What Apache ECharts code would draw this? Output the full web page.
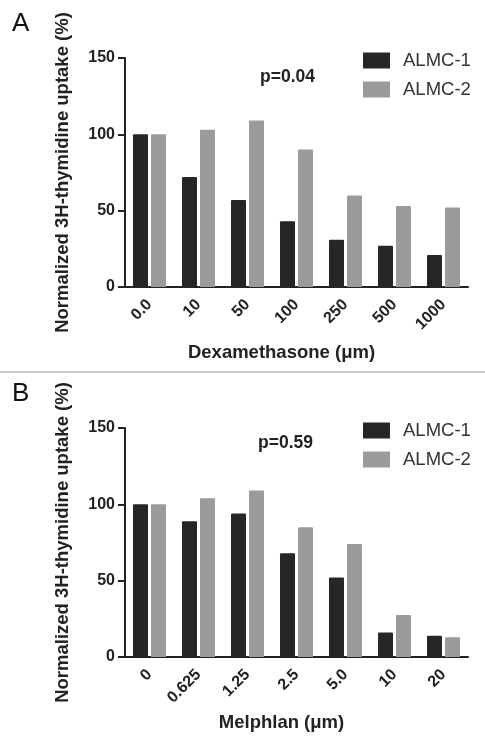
<!DOCTYPE html>
<html>
<head>
<meta charset="utf-8">
<script src="https://cdn.jsdelivr.net/npm/echarts@6/dist/echarts.min.js"></script>
<style>
html,body{margin:0;padding:0;background:#fff;}
#c{width:485px;height:749px;}
</style>
</head>
<body>
<div id="c"></div>
<script>
const catsA = ['0.0', '10', '50', '100', '250', '500', '1000'];
const almc1A = [100, 72, 57, 43, 31, 27, 21];
const almc2A = [100, 103, 109, 90, 60, 53, 52];

const catsB = ['0', '0.625', '1.25', '2.5', '5.0', '10', '20'];
const almc1B = [100, 89, 94, 68, 52, 16, 14];
const almc2B = [100, 104, 109, 85, 74, 27.5, 13];

const seriesNames = ['ALMC-1', 'ALMC-2'];
const yTicks = [0, 50, 100, 150];
const pTexts = ['p=0.04', 'p=0.59'];
const panelLetters = ['A', 'B'];
const xTitles = ['Dexamethasone (\u03bcm)', 'Melphlan (\u03bcm)'];
const yTitle = 'Normalized 3H-thymidine uptake (%)';

const DARK = '#262626';
const GRAY = '#9b9b9b';
const FONT = '"Liberation Sans", Arial, sans-serif';

const chart = echarts.init(document.getElementById('c'), null, {renderer: 'canvas'});

function xAxis(idx, cats, title) {
  return {
    type: 'category', gridIndex: idx, data: cats,
    axisLine: {lineStyle: {color: '#222', width: 2}},
    axisTick: {alignWithLabel: true, length: 7, lineStyle: {color: '#222', width: 2}},
    axisLabel: {rotate: 45, margin: 15, fontFamily: FONT, fontWeight: 'bold', fontSize: 16, color: '#222'},
    name: title, nameLocation: 'middle', nameGap: 56,
    nameTextStyle: {fontFamily: FONT, fontWeight: 'bold', fontSize: 18.5, color: '#222', padding: [0, 30, 0, 0]}
  };
}
function yAxis(idx) {
  return {
    type: 'value', gridIndex: idx, min: yTicks[0], max: yTicks[yTicks.length - 1], interval: 50,
    axisLine: {show: true, lineStyle: {color: '#222', width: 2}},
    axisTick: {show: true, length: 7, lineStyle: {color: '#222', width: 2}},
    axisLabel: {margin: 10, fontFamily: FONT, fontWeight: 'bold', fontSize: 16, color: '#222'},
    splitLine: {show: false},
    name: yTitle, nameLocation: 'middle', nameGap: 53,
    nameTextStyle: {fontFamily: FONT, fontWeight: 'bold', fontSize: 18.5, color: '#222'}
  };
}
function bar(name, data, idx, color) {
  return {
    name: name, type: 'bar', xAxisIndex: idx, yAxisIndex: idx, data: data,
    barWidth: 15, barGap: '20%',
    itemStyle: {color: color, borderRadius: [1, 1, 0, 0]}
  };
}
function legend(idx, top) {
  return {
    orient: 'vertical', left: 363, top: top, padding: 0,
    itemWidth: 27, itemHeight: 16, itemGap: 10,
    icon: 'rect', data: seriesNames,
    textStyle: {fontFamily: FONT, fontSize: 18.5, lineHeight: 16, color: '#333', padding: [0, 0, 0, 8]},
    selectedMode: false
  };
}

const option = {
  animation: false,
  backgroundColor: '#fff',
  grid: [
    {left: 125, right: 17, top: 58, height: 229},
    {left: 125, right: 17, top: 428, height: 229}
  ],
  xAxis: [xAxis(0, catsA, xTitles[0]), xAxis(1, catsB, xTitles[1])],
  yAxis: [yAxis(0), yAxis(1)],
  legend: [legend(0, 51), legend(1, 421)],
  series: [
    bar(seriesNames[0], almc1A, 0, DARK),
    bar(seriesNames[1], almc2A, 0, GRAY),
    bar(seriesNames[0], almc1B, 1, DARK),
    bar(seriesNames[1], almc2B, 1, GRAY)
  ],
  graphic: [
    {type: 'rect', left: 0, top: 371, shape: {width: 485, height: 2}, style: {fill: '#c8c8c8'}},
    {type: 'text', left: 12, top: 11, style: {text: panelLetters[0], font: '26px ' + FONT, fill: '#111'}},
    {type: 'text', left: 12, top: 381, style: {text: panelLetters[1], font: '26px ' + FONT, fill: '#111'}},
    {type: 'text', left: 260, top: 68, style: {text: pTexts[0], font: 'bold 17.5px ' + FONT, fill: '#222'}},
    {type: 'text', left: 258, top: 434, style: {text: pTexts[1], font: 'bold 17.5px ' + FONT, fill: '#222'}}
  ]
};
chart.setOption(option);
</script>
</body>
</html>
